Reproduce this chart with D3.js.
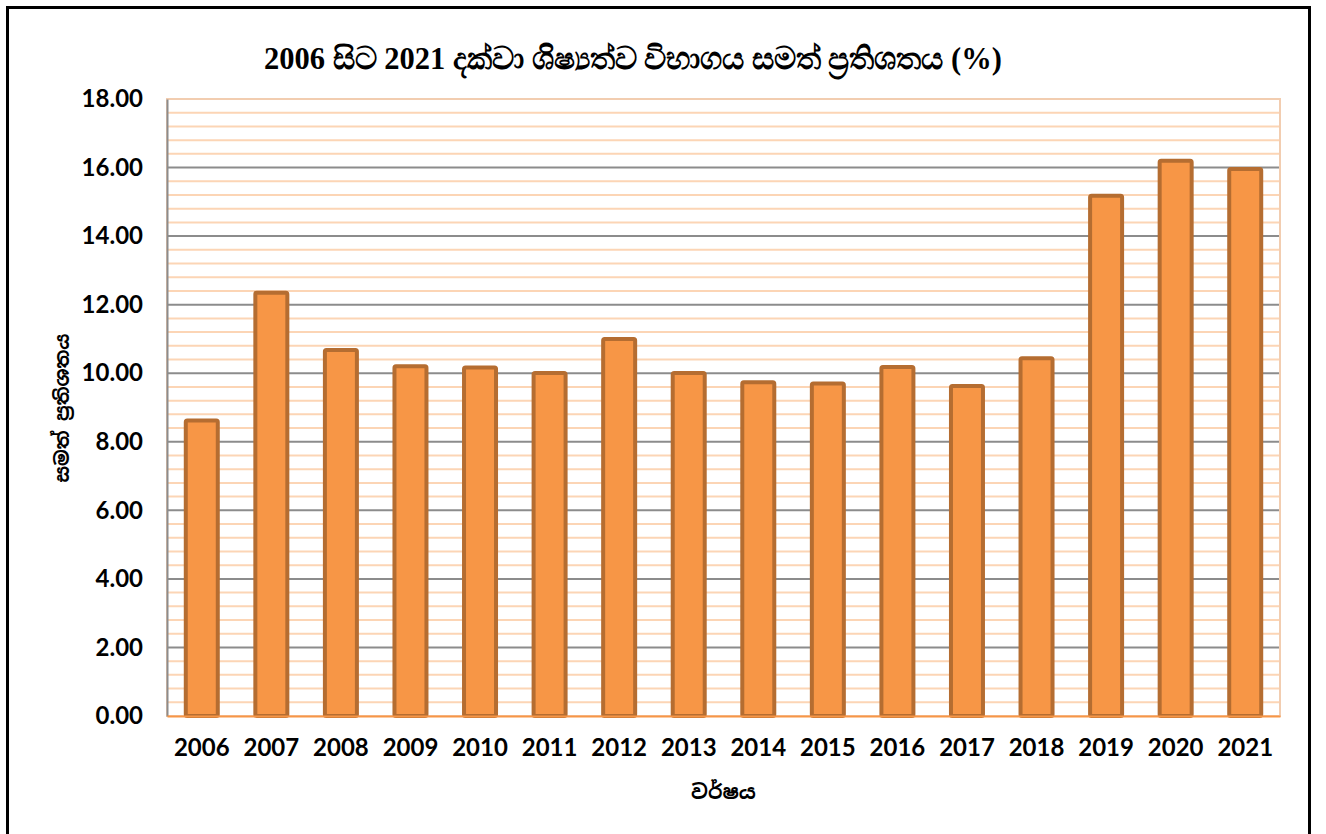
<!DOCTYPE html>
<html>
<head>
<meta charset="utf-8">
<script src="https://cdn.jsdelivr.net/npm/d3@7"></script>
<style>
  body { margin: 0; background: #fff; }
</style>
</head>
<body>
<svg class="chart"></svg>
<script>
// values
const years = ['2006', '2007', '2008', '2009', '2010', '2011', '2012', '2013',
  '2014', '2015', '2016', '2017', '2018', '2019', '2020', '2021'];
const passRates = [8.62, 12.35, 10.68, 10.20, 10.17, 10.01, 11.00, 10.01,
  9.74, 9.70, 10.18, 9.63, 10.44, 15.18, 16.20, 15.96];
const yTicks = [0, 2, 4, 6, 8, 10, 12, 14, 16, 18];
const titleText = '2006 සිට 2021 දක්වා ශිෂ්‍යත්ව විභාගය සමත් ප්‍රතිශතය (%)';
const xTitle = 'වර්ෂය';
const yTitle = 'සමත් ප්‍රතිශතය';

const data = years.map((y, i) => ({ year: y, value: passRates[i] }));

const svgWidth = 1326;
const svgHeight = 834;
const margin = { top: 99, right: 46, bottom: 118, left: 167 };
const chartWidth = svgWidth - margin.left - margin.right;
const chartHeight = svgHeight - margin.top - margin.bottom;

const svg = d3.select('.chart')
  .attr('width', svgWidth)
  .attr('height', svgHeight);

// outer frame
svg.append('rect')
  .attr('x', 7.5).attr('y', 7.5)
  .attr('width', 1302).attr('height', 840)
  .attr('fill', 'none')
  .attr('stroke', '#000')
  .attr('stroke-width', 3);

const chart = svg.append('g')
  .attr('transform', 'translate(' + margin.left + ',' + margin.top + ')');

const xScale = d3.scaleBand()
  .domain(years)
  .range([0, chartWidth])
  .paddingInner(0.54)
  .paddingOuter(0.27);

const yScale = d3.scaleLinear()
  .domain([0, 18])
  .range([chartHeight, 0]);

// minor gridlines every 0.4
const minorTicks = d3.range(0, 18.01, 0.4).filter(v => Math.abs(v / 2 - Math.round(v / 2)) > 0.01);
chart.append('g')
  .selectAll('line')
  .data(minorTicks)
  .enter()
  .append('line')
  .attr('x1', 0)
  .attr('x2', chartWidth)
  .attr('y1', d => yScale(d))
  .attr('y2', d => yScale(d))
  .attr('stroke', '#fcd5b5')
  .attr('stroke-width', 2);

// major gridlines
chart.append('g')
  .selectAll('line')
  .data(yTicks.filter(d => d > 0 && d < 18))
  .enter()
  .append('line')
  .attr('x1', 0)
  .attr('x2', chartWidth)
  .attr('y1', d => yScale(d))
  .attr('y2', d => yScale(d))
  .attr('stroke', '#8c8c8c')
  .attr('stroke-width', 2);

// plot area border (light orange)
chart.append('rect')
  .attr('x', 0).attr('y', 0)
  .attr('width', chartWidth).attr('height', chartHeight)
  .attr('fill', 'none')
  .attr('stroke', '#f2cdb0')
  .attr('stroke-width', 2);

// bars
chart.selectAll('.bar')
  .data(data)
  .enter()
  .append('rect')
  .attr('class', 'bar')
  .attr('x', d => xScale(d.year))
  .attr('y', d => yScale(d.value))
  .attr('width', xScale.bandwidth())
  .attr('height', d => chartHeight - yScale(d.value))
  .attr('fill', '#f79646')
  .attr('stroke', '#b56d31')
  .attr('stroke-width', 4)
  .attr('rx', 1.5);

// y axis
const yAxisGroup = chart.append('g')
  .call(d3.axisLeft(yScale).tickValues(yTicks).tickFormat(d3.format('.2f')).tickSize(0).tickPadding(24));
yAxisGroup.select('.domain').attr('stroke', '#8c8c8c').attr('stroke-width', 2);
yAxisGroup.selectAll('text')
  .attr('font-family', 'Lato, "Open Sans", sans-serif')
  .attr('font-weight', 'bold')
  .attr('font-size', '24px')
  .attr('fill', '#000');

// x axis
const xAxisGroup = chart.append('g')
  .attr('transform', 'translate(0,' + chartHeight + ')')
  .call(d3.axisBottom(xScale).tickSize(0).tickPadding(23));
xAxisGroup.select('.domain').attr('stroke', '#f79646').attr('stroke-width', 2);
xAxisGroup.selectAll('text')
  .attr('font-family', 'Lato, "Open Sans", sans-serif')
  .attr('font-weight', 'bold')
  .attr('font-size', '24px')
  .attr('fill', '#000');

// axis titles
svg.append('text')
  .attr('x', margin.left + chartWidth / 2)
  .attr('y', 799)
  .attr('text-anchor', 'middle')
  .attr('font-family', '"Noto Sans Sinhala", "Iskoola Pota", sans-serif')
  .attr('font-weight', 'bold')
  .attr('font-size', '20px')
  .text(xTitle);

svg.append('text')
  .attr('transform', 'translate(69,408) rotate(-90)')
  .attr('text-anchor', 'middle')
  .attr('font-family', '"Noto Sans Sinhala", "Iskoola Pota", sans-serif')
  .attr('font-weight', 'bold')
  .attr('font-size', '19px')
  .text(yTitle);

// title
svg.append('text')
  .attr('x', 633)
  .attr('y', 69)
  .attr('text-anchor', 'middle')
  .attr('font-family', '"Liberation Serif", "Times New Roman", serif')
  .attr('font-weight', 'bold')
  .attr('font-size', '30.5px')
  .text(titleText);
</script>
</body>
</html>
